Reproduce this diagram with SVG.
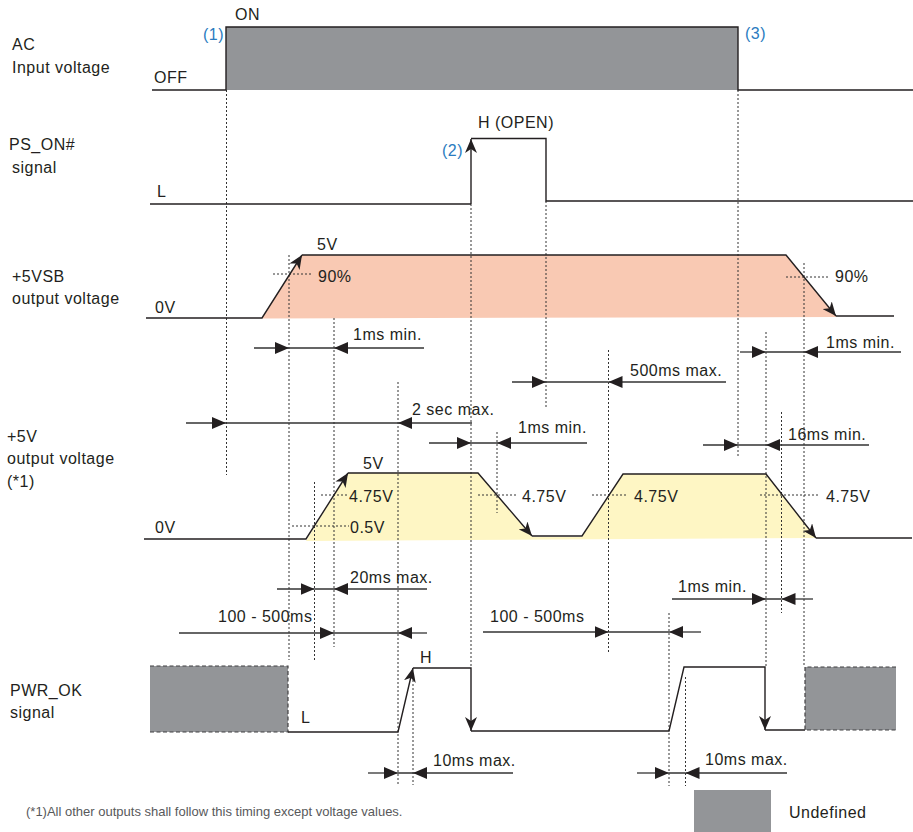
<svg xmlns="http://www.w3.org/2000/svg" width="913" height="832" viewBox="0 0 913 832">
<style>
text{font-family:"Liberation Sans",Arial,sans-serif;font-size:16px;letter-spacing:0.5px;fill:#231f20}
.blue{fill:#2a7bc0}
.foot{font-size:13px;letter-spacing:0;fill:#58595b}
.sig{fill:none;stroke:#231f20;stroke-width:1.4}
.dot{fill:none;stroke:#333;stroke-width:1;stroke-dasharray:2 2}
.dim{fill:none;stroke:#333;stroke-width:1.3}
.undef{fill:#939598}
.dash{fill:none;stroke:#414042;stroke-width:1.2;stroke-dasharray:4 2.5}
</style>
<defs>
<marker id="dimA" viewBox="0 0 14 12" refX="14" refY="6" markerWidth="14" markerHeight="12" markerUnits="userSpaceOnUse" orient="auto"><path d="M0,0 L14,6 L0,12 z" fill="#231f20"/></marker>
<marker id="sigA" viewBox="0 0 14 12" refX="14" refY="6" markerWidth="14" markerHeight="12" markerUnits="userSpaceOnUse" orient="auto"><path d="M0,0 L14,6 L0,12 L4,6 z" fill="#231f20"/></marker>
</defs>

<!-- fills -->
<g id="fills">
<rect class="undef" x="226" y="27" width="512" height="63"/>
<polygon points="262,318 302,255 786,255 836,316 836,317 262,318.5" fill="#f9c9b3"/>
<polygon points="306,541 348,473 478,473 532,537 582,537 623,474 766,474 816,538" fill="#fef6c4"/>
</g>

<!-- left labels -->
<g id="labels">
<text x="12" y="50">AC</text><text x="12" y="73">Input voltage</text>
<text x="9" y="150">PS_ON#</text><text x="12" y="173">signal</text>
<text x="12" y="282">+5VSB</text><text x="12" y="304">output voltage</text>
<text x="7" y="442">+5V</text><text x="7" y="464">output voltage</text><text x="7" y="487">(*1)</text>
<text x="10" y="696">PWR_OK</text><text x="10" y="718">signal</text>
</g>

<!-- dotted guide lines -->
<g id="guides">
<path class="dot" d="M226.5,90V475 M471,204V668 M546,201V407 M738,90V457 M289,255V660 M334,318V647 M804,263V665 M766,332V667 M608.5,350V652 M781.5,412V613 M398,382V785 M497,432V513 M314.5,482V660 M669,613V786 M685.5,677V786 M413,676V785"/>
<path class="dot" d="M273,274H313 M786,277H828 M321,495H348 M292,526H349 M478,495H516 M592,495H627 M760,495H818"/>
</g>

<!-- AC input -->
<g id="ac">
<path class="sig" d="M152,90H226V27H738V90H913" stroke="#414042"/>
<text x="235" y="20">ON</text>
<text x="154" y="83">OFF</text>
<text class="blue" x="203" y="40">(1)</text>
<text class="blue" x="745" y="39">(3)</text>
</g>

<!-- PS_ON# -->
<g id="pson">
<path class="sig" d="M150,204H471"/>
<path class="sig" d="M471,204V139" marker-end="url(#sigA)"/>
<path class="sig" d="M471,138.5H546V201H913"/>
<text x="478" y="128">H (OPEN)</text>
<text x="157" y="197">L</text>
<text class="blue" x="442" y="156">(2)</text>
</g>

<!-- +5VSB -->
<g id="vsb">
<path class="sig" d="M146,318H262L302,255" marker-end="url(#sigA)"/>
<path class="sig" d="M302,255H786L836,316" marker-end="url(#sigA)"/>
<path class="sig" d="M836,316H894"/>
<text x="317" y="250">5V</text>
<text x="155" y="313">0V</text>
<text x="318" y="282">90%</text>
<text x="835" y="282">90%</text>
</g>

<!-- +5V -->
<g id="v5">
<path class="sig" d="M144,539H306L348,473" marker-end="url(#sigA)"/>
<path class="sig" d="M348,473H478L532,536" marker-end="url(#sigA)"/>
<path class="sig" d="M532,536H582L623,474H766L816,538" marker-end="url(#sigA)"/>
<path class="sig" d="M816,538H912"/>
<text x="363" y="469">5V</text>
<text x="349" y="502">4.75V</text>
<text x="350" y="533">0.5V</text>
<text x="522" y="502">4.75V</text>
<text x="634" y="502">4.75V</text>
<text x="826" y="502">4.75V</text>
<text x="155" y="533">0V</text>
</g>

<!-- PWR_OK -->
<g id="pwrok">
<rect class="undef" x="150" y="666" width="138" height="66"/>
<path class="dash" d="M150,666H288V732H150"/>
<rect class="undef" x="805" y="667" width="91" height="63"/>
<path class="dash" d="M896,667H805V730H896"/>
<path class="sig" d="M288,732H398L413,668" marker-end="url(#sigA)"/>
<path class="sig" d="M413,668H471V731" marker-end="url(#sigA)"/>
<path class="sig" d="M471,731H669L684,667H765V730" marker-end="url(#sigA)"/>
<path class="sig" d="M765,730H805"/>
<text x="420" y="663">H</text>
<text x="301" y="723">L</text>
</g>

<!-- dimension connectors -->
<g id="connectors">
<path class="dim" d="M289,348H334 M226,423H398 M546,382H608.5 M766,352H804 M471,443H497 M738,445H766 M314.5,589H334 M334,633H398 M608.5,632H669 M766,599H781.5 M398,773H413 M669,773H685.5"/>
<g marker-end="url(#dimA)">
<path class="dim" d="M254,348H289"/><path class="dim" d="M424,348H334"/>
<path class="dim" d="M186,423H226"/><path class="dim" d="M472,423H398"/>
<path class="dim" d="M512,382H546"/><path class="dim" d="M726,382H608.5"/>
<path class="dim" d="M740,352H766"/><path class="dim" d="M901,352H804"/>
<path class="dim" d="M429,443H471"/><path class="dim" d="M587,443H497"/>
<path class="dim" d="M703,445H738"/><path class="dim" d="M869,445H766"/>
<path class="dim" d="M277,589H314.5"/><path class="dim" d="M427,589H334"/>
<path class="dim" d="M179,633H334"/><path class="dim" d="M427,633H398"/>
<path class="dim" d="M483,632H608.5"/><path class="dim" d="M701,632H669"/>
<path class="dim" d="M672,599H766"/><path class="dim" d="M813,599H781.5"/>
<path class="dim" d="M368,773H398"/><path class="dim" d="M513,773H413"/>
<path class="dim" d="M637,773H669"/><path class="dim" d="M787,773H685.5"/>
</g>
</g>
<g id="dimlabels">
<text x="353" y="340">1ms min.</text>
<text x="412" y="415">2 sec max.</text>
<text x="630" y="376">500ms max.</text>
<text x="826" y="348">1ms min.</text>
<text x="518" y="433">1ms min.</text>
<text x="788" y="440">16ms min.</text>
<text x="350" y="583">20ms max.</text>
<text x="218" y="622">100 - 500ms</text>
<text x="490" y="622">100 - 500ms</text>
<text x="678" y="592">1ms min.</text>
<text x="433" y="766">10ms max.</text>
<text x="705" y="765">10ms max.</text>
</g>

<!-- legend and footnote -->
<g id="legend">
<rect class="undef" x="694" y="790" width="77" height="42"/>
<text x="789" y="818">Undefined</text>
</g>
<text class="foot" x="26" y="816">(*1)All other outputs shall follow this timing except voltage values.</text>
</svg>
